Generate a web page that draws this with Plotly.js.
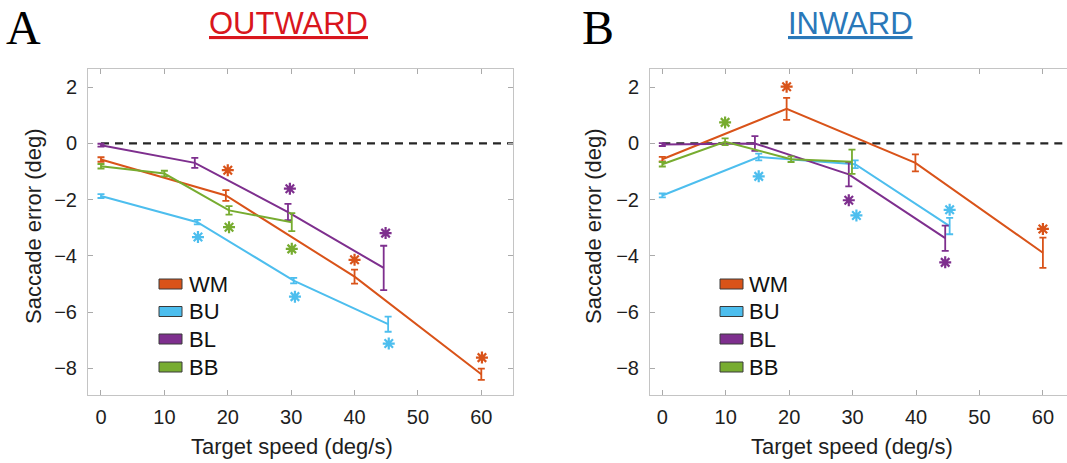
<!DOCTYPE html>
<html>
<head>
<meta charset="utf-8">
<script src="https://cdn.plot.ly/plotly-3.0.1.min.js"></script>
<style>
html,body{margin:0;padding:0;background:#fff;}
#chart{width:1067px;height:463px;}
</style>
</head>
<body>
<div id="chart"></div>
<script>
// ---------------- DATA ----------------
const seriesNames = ['WM', 'BU', 'BL', 'BB'];
const seriesColors = ['#d95319', '#4dbeee', '#7e2f8e', '#77ac30'];
const xTickVals = [0, 10, 20, 30, 40, 50, 60];
const yTickVals = [-8, -6, -4, -2, 0, 2];

// Panel A: OUTWARD
const outWM_x = [0, 19.7, 40, 60];
const outWM_y = [-0.57, -1.85, -4.74, -8.21];
const outWM_e = [0.08, 0.19, 0.25, 0.2];
const outBU_x = [0, 15.2, 30.4, 45.3];
const outBU_y = [-1.87, -2.80, -4.88, -6.43];
const outBU_e = [0.07, 0.08, 0.1, 0.27];
const outBL_x = [0, 14.8, 29.5, 44.6];
const outBL_y = [-0.06, -0.69, -2.44, -4.43];
const outBL_e = [0.05, 0.18, 0.29, 0.79];
const outBB_x = [0, 10, 20.2, 30.1];
const outBB_y = [-0.81, -1.07, -2.38, -2.80];
const outBB_e = [0.08, 0.1, 0.15, 0.32];
// significance stars, panel A
const outStarWM_x = [20, 40, 60.1];
const outStarWM_y = [-0.95, -4.14, -7.62];
const outStarBU_x = [15.3, 30.6, 45.4];
const outStarBU_y = [-3.33, -5.45, -7.12];
const outStarBL_x = [29.8, 44.9];
const outStarBL_y = [-1.61, -3.19];
const outStarBB_x = [20.2, 30.1];
const outStarBB_y = [-2.98, -3.75];

// Panel B: INWARD
const inWM_x = [0, 19.6, 39.9, 60];
const inWM_y = [-0.56, 1.23, -0.69, -3.89];
const inWM_e = [0.08, 0.39, 0.3, 0.54];
const inBU_x = [0, 15.2, 30.4, 45.3];
const inBU_y = [-1.85, -0.48, -0.74, -2.94];
const inBU_e = [0.07, 0.12, 0.14, 0.29];
const inBL_x = [0, 14.6, 29.4, 44.6];
const inBL_y = [-0.04, 0.0, -1.10, -3.37];
const inBL_e = [0.05, 0.26, 0.43, 0.45];
const inBB_x = [0, 9.9, 20.3, 29.9];
const inBB_y = [-0.74, 0.06, -0.56, -0.65];
const inBB_e = [0.08, 0.12, 0.1, 0.43];
// significance stars, panel B
const inStarWM_x = [19.6, 60];
const inStarWM_y = [2.02, -3.04];
const inStarBU_x = [15.2, 30.6, 45.3];
const inStarBU_y = [-1.17, -2.56, -2.36];
const inStarBL_x = [29.4, 44.6];
const inStarBL_y = [-2.02, -4.23];
const inStarBB_x = [9.9];
const inStarBB_y = [0.75];

const panelTitles = ['OUTWARD', 'INWARD'];
const panelLetters = ['A', 'B'];
const xTitle = 'Target speed (deg/s)';
const yTitle = 'Saccade error (deg)';

// ---------------- BUILD ----------------
const W = 1067, H = 463;
const px = v => v / W;
const py = v => 1 - v / H;
const FONT = 'Liberation Sans, Arial, Helvetica, sans-serif';

const outData = [
  [outWM_x, outWM_y, outWM_e, outStarWM_x, outStarWM_y],
  [outBU_x, outBU_y, outBU_e, outStarBU_x, outStarBU_y],
  [outBL_x, outBL_y, outBL_e, outStarBL_x, outStarBL_y],
  [outBB_x, outBB_y, outBB_e, outStarBB_x, outStarBB_y]
];
const inData = [
  [inWM_x, inWM_y, inWM_e, inStarWM_x, inStarWM_y],
  [inBU_x, inBU_y, inBU_e, inStarBU_x, inStarBU_y],
  [inBL_x, inBL_y, inBL_e, inStarBL_x, inStarBL_y],
  [inBB_x, inBB_y, inBB_e, inStarBB_x, inStarBB_y]
];

const traces = [];
[[outData, 'x', 'y'], [inData, 'x2', 'y2']].forEach(([set, xa, ya]) => {
  set.forEach((s, i) => {
    traces.push({
      type: 'scatter', mode: 'lines', name: seriesNames[i],
      x: s[0], y: s[1], xaxis: xa, yaxis: ya, showlegend: false,
      line: {color: seriesColors[i], width: 2},
      error_y: {type: 'data', array: s[2], visible: true, color: seriesColors[i], thickness: 1.8, width: 3.5},
      hoverinfo: 'x+y'
    });
  });
  set.forEach((s, i) => {
    traces.push({
      type: 'scatter', mode: 'markers', name: seriesNames[i] + ' *',
      x: s[3], y: s[4], xaxis: xa, yaxis: ya, showlegend: false,
      marker: {symbol: 'asterisk-open', size: 10, color: seriesColors[i],
               line: {color: seriesColors[i], width: 2.2}},
      hoverinfo: 'x+y'
    });
  });
});

const yDomain = [py(395), py(69)];
function xAxis(domain, range) {
  return {
    domain: domain, range: range, tickvals: xTickVals,
    ticks: 'inside', ticklen: 5, tickwidth: 1, tickcolor: '#aaaaaa',
    showline: true, linecolor: '#c4c4c4', linewidth: 1, mirror: 'allticks',
    showgrid: false, zeroline: false,
    tickfont: {family: FONT, size: 20, color: '#1e1e1e'},
    ticklabelstandoff: 4
  };
}
function yAxis(anchor, mirror) {
  return {
    domain: yDomain, range: [-8.95, 2.65], tickvals: yTickVals, anchor: anchor,
    ticks: 'inside', ticklen: 5, tickwidth: 1, tickcolor: '#aaaaaa',
    showline: true, linecolor: '#c4c4c4', linewidth: 1, mirror: mirror,
    showgrid: false, zeroline: false,
    tickfont: {family: FONT, size: 20, color: '#1e1e1e'},
    ticklabelstandoff: 6
  };
}

const shapes = [
  {type: 'line', xref: 'x', yref: 'y', x0: 0, x1: 65, y0: 0, y1: 0,
   line: {color: '#262626', width: 2.2, dash: '8px,6px'}, layer: 'below'},
  {type: 'line', xref: 'x2', yref: 'y2', x0: 0, x1: 64, y0: 0, y1: 0,
   line: {color: '#262626', width: 2.2, dash: '8px,6px'}, layer: 'below'}
];
const annotations = [];
const legendRows = [284, 311.5, 339, 367];
[[159, 182, 187], [720, 743, 747]].forEach(([x0, x1, tx]) => {
  seriesNames.forEach((n, i) => {
    const yc = legendRows[i];
    shapes.push({type: 'rect', xref: 'paper', yref: 'paper',
      x0: px(x0), x1: px(x1), y0: py(yc + 5), y1: py(yc - 5),
      fillcolor: seriesColors[i], line: {color: '#3a3a3a', width: 1}});
    annotations.push({xref: 'paper', yref: 'paper', x: px(tx), y: py(yc),
      xanchor: 'left', yanchor: 'middle', showarrow: false, text: n,
      font: {family: FONT, size: 22, color: '#111'}});
  });
});

// panel titles, letters, axis titles
const titleColors = ['#d9161d', '#2a78b9'];
[[288, 5, 33, 292], [850, 581, 593, 852]].forEach(([tc, lx, ytx, xtx], k) => {
  annotations.push({xref: 'paper', yref: 'paper', x: px(tc), y: py(24), xanchor: 'center', yanchor: 'middle',
    showarrow: false, text: '<u>' + panelTitles[k] + '</u>',
    font: {family: FONT, size: 31, color: titleColors[k]}});
  annotations.push({xref: 'paper', yref: 'paper', x: px(lx), y: 1, xanchor: 'left', yanchor: 'top',
    showarrow: false, text: panelLetters[k], borderpad: 0,
    font: {family: 'Liberation Serif, Times New Roman, serif', size: 48, color: '#000'}});
  annotations.push({xref: 'paper', yref: 'paper', x: px(ytx), y: py(226), xanchor: 'center', yanchor: 'middle',
    showarrow: false, text: yTitle, textangle: -90,
    font: {family: FONT, size: 22, color: '#1e1e1e'}});
  annotations.push({xref: 'paper', yref: 'paper', x: px(xtx), y: py(446), xanchor: 'center', yanchor: 'middle',
    showarrow: false, text: xTitle,
    font: {family: FONT, size: 22, color: '#1e1e1e'}});
});

const layout = {
  width: W, height: H,
  margin: {l: 0, r: 0, t: 0, b: 0, pad: 0},
  paper_bgcolor: '#fff', plot_bgcolor: '#fff',
  showlegend: false,
  font: {family: FONT},
  xaxis: Object.assign(xAxis([px(88), px(513)], [-2.05, 65]), {anchor: 'y'}),
  yaxis: yAxis('x', 'allticks'),
  xaxis2: Object.assign(xAxis([px(650), 1], [-1.94, 63.8]), {anchor: 'y2'}),
  yaxis2: yAxis('x2', false),
  shapes: shapes,
  annotations: annotations
};

Plotly.newPlot('chart', traces, layout, {displayModeBar: false, staticPlot: true});
</script>
</body>
</html>
